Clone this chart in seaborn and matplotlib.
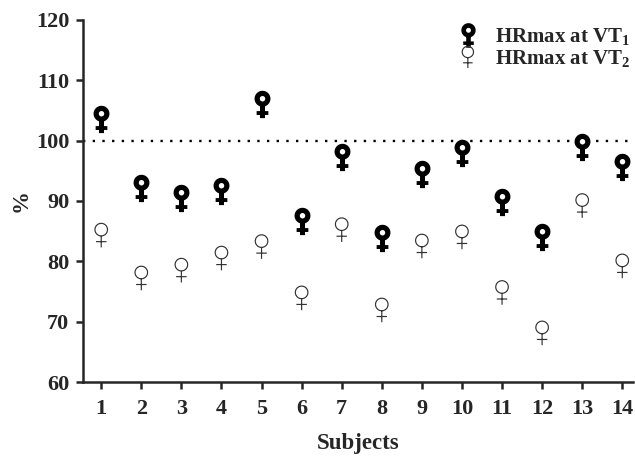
import numpy as np
import pandas as pd
import matplotlib.pyplot as plt
from matplotlib.path import Path
import seaborn as sns

# values (% of HRmax)
subjects = [1, 2, 3, 4, 5, 6, 7, 8, 9, 10, 11, 12, 13, 14]
hr_vt1 = [103.6, 92.1, 90.5, 91.7, 106.0, 86.6, 97.3, 83.8, 94.4, 97.9, 89.9, 84.0, 99.0, 95.6]
hr_vt2 = [84.3, 77.2, 78.5, 80.5, 82.4, 73.9, 85.2, 71.9, 82.5, 84.0, 74.8, 68.1, 89.2, 79.2]
labels = ["HRmax at VT$_1$", "HRmax at VT$_2$"]

df = pd.DataFrame({"subject": subjects, "vt1": hr_vt1, "vt2": hr_vt2})


def circle_pts(cx, cy, r, n=48, reverse=False):
    t = np.linspace(0, 2 * np.pi, n)
    if reverse:
        t = t[::-1]
    return np.column_stack([cx + r * np.cos(t), cy + r * np.sin(t)])


def bold_venus():
    # thick ring + plus shaped stem, filled (all outer parts counter-clockwise)
    outer = circle_pts(0, 5.5, 7.6)
    inner = circle_pts(0, 5.5, 2.6, reverse=True)
    cross = np.array([[-2.4, -1], [2.4, -1], [2.4, -6.3], [5.6, -6.3], [5.6, -10],
                      [2.4, -10], [2.4, -13], [-2.4, -13], [-2.4, -10], [-5.6, -10],
                      [-5.6, -6.3], [-2.4, -6.3], [-2.4, -1]])[::-1]
    verts, codes = [], []
    for part in (outer, inner, cross):
        verts.extend(part.tolist())
        codes.extend([Path.MOVETO] + [Path.LINETO] * (len(part) - 1))
    return Path(verts, codes)


def thin_venus():
    ring = circle_pts(0, 5.5, 6.0)
    verts = ring.tolist() + [[0, -0.5], [0, -11.5], [-5, -6], [5, -6]]
    codes = [Path.MOVETO] + [Path.LINETO] * (len(ring) - 1) + \
            [Path.MOVETO, Path.LINETO, Path.MOVETO, Path.LINETO]
    return Path(verts, codes)


sns.set_style("ticks")
plt.rcParams["font.family"] = ["Liberation Serif", "DejaVu Serif"]
plt.rcParams["font.weight"] = "bold"
plt.rcParams["mathtext.fontset"] = "custom"
plt.rcParams["mathtext.rm"] = "Liberation Serif:bold"
plt.rcParams["mathtext.bf"] = "Liberation Serif:bold"
plt.rcParams["mathtext.it"] = "Liberation Serif:bold"
plt.rcParams["mathtext.default"] = "bf"

fig, ax = plt.subplots(figsize=(6.35, 4.62), dpi=100)
fig.subplots_adjust(left=0.131, right=0.997, bottom=0.173, top=0.957)

ax.axhline(100, color="black", lw=1.7, ls=(0, (1, 3.1)), zorder=1)

sns.scatterplot(data=df, x="subject", y="vt1", marker=bold_venus(), s=390,
                color="black", linewidth=0, label=labels[0], ax=ax, zorder=3)
sns.scatterplot(data=df, x="subject", y="vt2", marker=thin_venus(), s=300,
                facecolor="none", edgecolor="#333333", linewidth=0.85,
                label=labels[1], ax=ax, zorder=3)

ax.set_xlim(0.55, 14.27)
ax.set_ylim(60, 120)
ax.set_xticks(subjects)
ax.set_yticks(range(60, 121, 10))
ax.tick_params(axis="both", labelsize=16, width=1.8, length=5, direction="out", pad=5)
ax.tick_params(axis="x", pad=7)
for lab in ax.get_xticklabels() + ax.get_yticklabels():
    lab.set_fontweight("bold")
for side in ("left", "bottom"):
    ax.spines[side].set_linewidth(1.8)
sns.despine(ax=ax)

ax.set_xlabel("Subjects", fontsize=16.5, fontweight="bold", labelpad=10)
ax.set_ylabel("%", fontsize=16.5, fontweight="bold", labelpad=3)

ax.legend(loc="upper right", bbox_to_anchor=(1.01, 1.005), frameon=False,
          prop={"size": 15, "weight": "bold"}, handletextpad=0.5, handlelength=1.6,
          labelspacing=0.05, borderaxespad=0.0, scatteryoffsets=[0.5],
          markerscale=0.9)

fig.savefig("out.png", dpi=100)
